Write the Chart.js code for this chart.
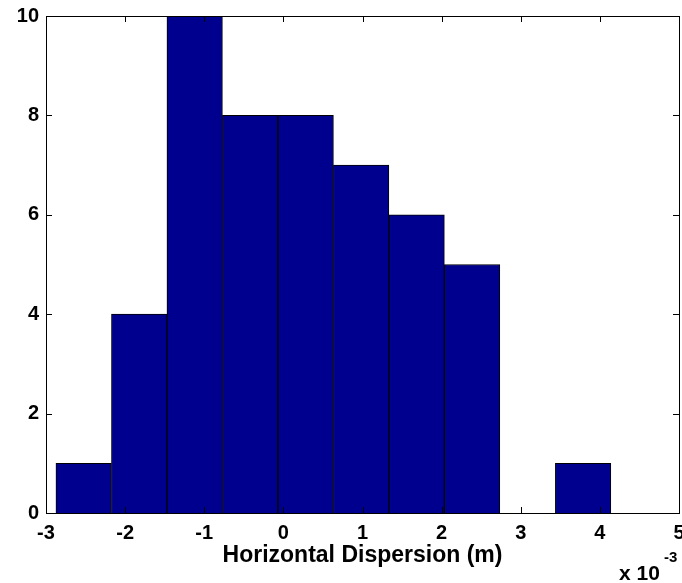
<!DOCTYPE html>
<html>
<head>
<meta charset="utf-8">
<script src="https://cdn.jsdelivr.net/npm/chart.js@4.4.1/dist/chart.umd.min.js"></script>
<style>
  html, body { margin: 0; padding: 0; background: #fff; }
  #wrap { width: 682px; height: 583px; }
</style>
</head>
<body>
<div id="wrap"><canvas id="histChart"></canvas></div>
<script>
// bin centres (x 10^-3 m) and counts
const binCenters = [-2.524, -1.822, -1.121, -0.420, 0.282, 0.983, 1.684, 2.385, 3.087, 3.788];
const counts = [1, 4, 10, 8, 8, 7, 6, 5, 0, 1];
const xTicks = [-3, -2, -1, 0, 1, 2, 3, 4, 5];
const yTicks = [0, 2, 4, 6, 8, 10];

const fontFamily = "'Liberation Sans', Arial, sans-serif";

// MATLAB style box with inward ticks on all four sides
const boxTicks = {
  id: "boxTicks",
  afterDraw(chart) {
    const { ctx, chartArea: a, scales } = chart;
    const len = 6;
    ctx.save();
    ctx.strokeStyle = "#000";
    ctx.lineWidth = 1;
    ctx.beginPath();
    xTicks.forEach((v) => {
      const x = Math.round(scales.x.getPixelForValue(v)) + 0.5;
      ctx.moveTo(x, a.bottom); ctx.lineTo(x, a.bottom - len);
      ctx.moveTo(x, a.top); ctx.lineTo(x, a.top + len);
    });
    yTicks.forEach((v) => {
      const y = Math.round(scales.y.getPixelForValue(v)) + 0.5;
      ctx.moveTo(a.left, y); ctx.lineTo(a.left + len, y);
      ctx.moveTo(a.right, y); ctx.lineTo(a.right - len, y);
    });
    ctx.stroke();
    ctx.strokeRect(Math.round(a.left) + 0.5, Math.round(a.top) + 0.5,
      Math.round(a.right - a.left), Math.round(a.bottom - a.top));

    // exponent label
    ctx.fillStyle = "#000";
    ctx.textAlign = "left";
    ctx.textBaseline = "alphabetic";
    ctx.font = "bold 21px " + fontFamily;
    ctx.fillText("x 10", 619, 580);
    ctx.font = "bold 15px " + fontFamily;
    ctx.fillText("-3", 664, 562);
    ctx.restore();
  },
};

new Chart(document.getElementById("histChart"), {
  type: "bar",
  data: {
    datasets: [
      {
        data: binCenters.map((x, i) => ({ x, y: counts[i] })),
        backgroundColor: "#00008f",
        borderColor: "#000",
        borderWidth: 1,
        barPercentage: 1,
        categoryPercentage: 1,
      },
    ],
  },
  options: {
    responsive: true,
    maintainAspectRatio: false,
    animation: false,
    layout: { padding: { top: 16, right: 3, left: 0, bottom: 0 } },
    plugins: { legend: { display: false }, tooltip: { enabled: false } },
    scales: {
      x: {
        type: "linear",
        min: -3,
        max: 5,
        offset: false,
        afterBuildTicks: (s) => { s.ticks = xTicks.map((v) => ({ value: v })); },
        afterFit: (s) => { s.height = 70; s.paddingLeft = 0; s.paddingRight = 0; },
        grid: { display: false, drawTicks: false },
        border: { display: false },
        ticks: {
          color: "#000",
          padding: 8,
          maxRotation: 0,
          autoSkip: false,
          font: { family: fontFamily, size: 20, weight: "bold" },
        },
        title: {
          display: true,
          text: "Horizontal Dispersion (m)",
          color: "#000",
          padding: { top: 0, bottom: 14 },
          font: { family: fontFamily, size: 23, weight: "bold" },
        },
      },
      y: {
        min: 0,
        max: 10,
        afterBuildTicks: (s) => { s.ticks = yTicks.map((v) => ({ value: v })); },
        afterFit: (s) => { s.width = 46; s.paddingTop = 0; s.paddingBottom = 0; },
        grid: { display: false, drawTicks: false },
        border: { display: false },
        ticks: {
          color: "#000",
          padding: 7,
          font: { family: fontFamily, size: 20, weight: "bold" },
        },
      },
    },
  },
  plugins: [boxTicks],
});
</script>
</body>
</html>
